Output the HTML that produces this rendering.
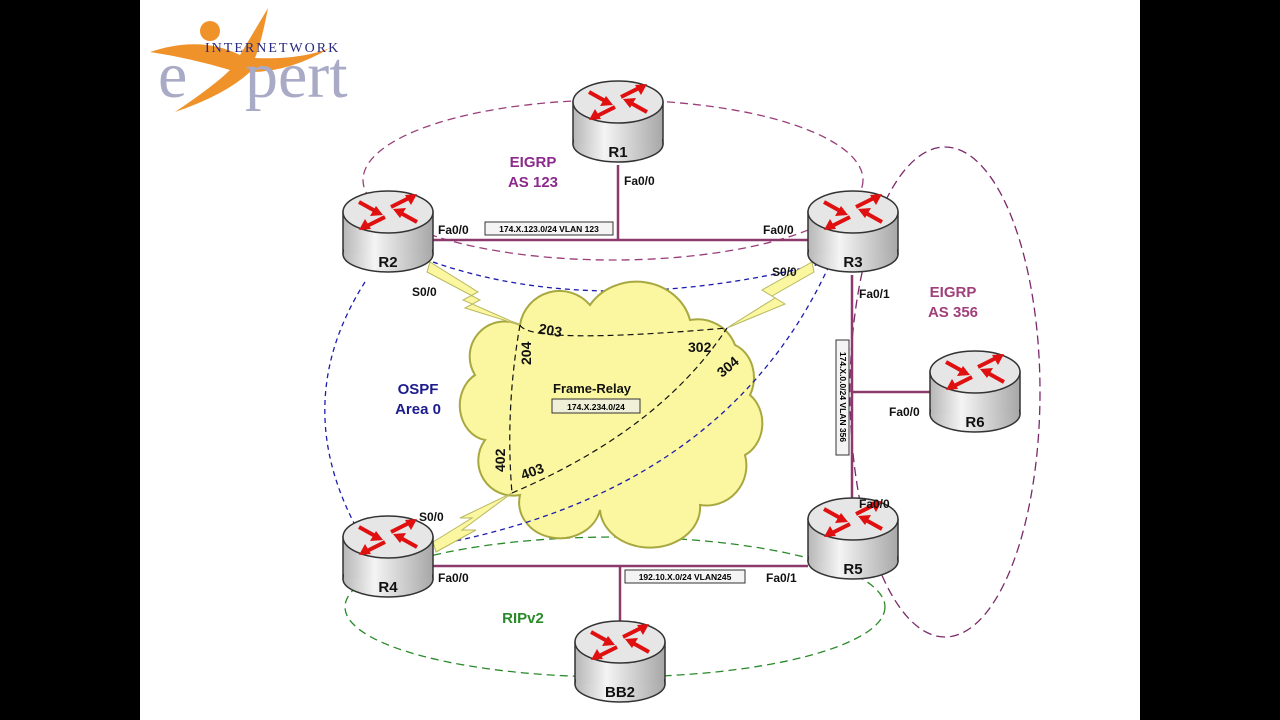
<!DOCTYPE html>
<html><head><style>
body{margin:0;background:#000;}
svg{display:block;font-family:"Liberation Sans",Arial,sans-serif;}
</style></head><body>
<svg width="1280" height="720" viewBox="0 0 1280 720" xmlns="http://www.w3.org/2000/svg">
<defs>
<linearGradient id="bg" x1="0" x2="1" y1="0" y2="0">
<stop offset="0" stop-color="#b8b8b8"/><stop offset="0.35" stop-color="#f4f4f4"/><stop offset="1" stop-color="#a8a8a8"/>
</linearGradient>
<g id="rt">
<rect x="0" y="22" width="90" height="42" fill="url(#bg)" stroke="#333" stroke-width="1.5"/>
<ellipse cx="45" cy="64" rx="45" ry="18" fill="url(#bg)" stroke="#333" stroke-width="1.5"/>
<rect x="1" y="22" width="88" height="42" fill="url(#bg)"/>
<ellipse cx="45" cy="22" rx="45" ry="21" fill="#e6e6e6" stroke="#333" stroke-width="1.5"/>
<g stroke="#e01010" stroke-width="4" fill="#e01010">
<line x1="16" y1="12" x2="34" y2="22"/><polygon points="40,25 27,26 33,16" stroke="none"/>
<line x1="74" y1="32" x2="56" y2="22"/><polygon points="50,19 63,18 57,28" stroke="none"/>
<line x1="42" y1="27" x2="24" y2="36"/><polygon points="16,40 22,29 28,39" stroke="none"/>
<line x1="48" y1="17" x2="66" y2="8"/><polygon points="74,4 68,15 62,5" stroke="none"/>
</g>
</g>
</defs>
<rect x="140" y="0" width="1000" height="720" fill="#fff"/>
<!-- logo -->
<path d="M150,52 Q200,35 240,55 Q255,30 268,8 Q262,40 255,58 Q300,60 330,48 Q290,72 250,72 Q225,95 175,112 Q215,85 230,70 Q190,58 150,52Z" fill="#f0922a"/>
<circle cx="210" cy="31" r="10" fill="#f0922a"/>
<text x="158" y="97" font-family="Liberation Serif,serif" font-size="66" fill="#a9abc6">e</text>
<text x="245" y="97" font-family="Liberation Serif,serif" font-size="66" fill="#a9abc6">pert</text>
<text x="205" y="52" font-family="Liberation Serif,serif" font-size="14" letter-spacing="2" fill="#2a2a80">INTERNETWORK</text>
<!-- dashed ellipses -->
<ellipse cx="613" cy="180" rx="250" ry="80" fill="none" stroke="#9a3e7a" stroke-width="1.3" stroke-dasharray="8,5"/>
<ellipse cx="945" cy="392" rx="95" ry="245" fill="none" stroke="#7a2a6a" stroke-width="1.3" stroke-dasharray="9,5"/>
<ellipse cx="615" cy="607" rx="270" ry="70" fill="none" stroke="#2a8a2a" stroke-width="1.3" stroke-dasharray="8,5"/>
<path d="M433,262 Q600,320 828,262" fill="none" stroke="#1c1cae" stroke-width="1.3" stroke-dasharray="5,4"/>
<path d="M365,282 Q290,400 355,525" fill="none" stroke="#1c1cae" stroke-width="1.3" stroke-dasharray="5,4"/>
<!-- cloud -->
<path d="M520,325 A40,40 0 0 1 590,305 A55,50 0 0 1 690,320 A40,40 0 0 1 735,345 A30,35 0 0 1 750,395 A30,35 0 0 1 745,455 A40,40 0 0 1 700,505 A50,40 0 0 1 600,510 A40,35 0 0 1 520,495 A35,35 0 0 1 485,440 A30,35 0 0 1 475,375 A35,35 0 0 1 520,325 Z" fill="#fbf6a0" stroke="#a8a840" stroke-width="2"/>
<path d="M412,549 Q720,500 828,268" fill="none" stroke="#1c1cae" stroke-width="1.3" stroke-dasharray="5,4"/>
<!-- bolts -->
<g fill="#fbf6a0" stroke="#b8b860" stroke-width="1">
<polygon points="430,262 478,292 463,300 520,325 465,308 480,300 427,272"/>
<polygon points="812,262 762,290 775,298 727,328 785,304 772,296 814,272"/>
<polygon points="433,542 472,518 460,518 512,493 462,530 476,530 436,552"/>
</g>
<!-- PVC dashed -->
<g fill="none" stroke="#111" stroke-width="1.2" stroke-dasharray="6,4">
<path d="M520,325 Q530,345 727,328"/>
<path d="M520,325 Q505,410 512,493"/>
<path d="M512,493 Q660,430 727,328"/>
</g>
<g font-weight="bold" font-size="14" fill="#111">
<text x="538" y="333" transform="rotate(10 538 333)">203</text>
<text x="531" y="365" transform="rotate(-90 531 365)">204</text>
<text x="688" y="352">302</text>
<text x="722" y="378" transform="rotate(-40 722 378)">304</text>
<text x="505" y="472" transform="rotate(-90 505 472)">402</text>
<text x="523" y="480" transform="rotate(-20 523 480)">403</text>
<text x="553" y="393" font-size="13">Frame-Relay</text>
</g>
<rect x="552" y="399" width="88" height="14" fill="#f0f0d8" stroke="#333"/>
<text x="596" y="410" font-size="8.5" font-weight="bold" text-anchor="middle">174.X.234.0/24</text>
<!-- ethernet lines -->
<g stroke="#8b3a6b" stroke-width="2.5">
<line x1="618" y1="165" x2="618" y2="240"/>
<line x1="433" y1="240" x2="808" y2="240"/>
<line x1="852" y1="275" x2="852" y2="500"/>
<line x1="852" y1="392" x2="932" y2="392"/>
<line x1="433" y1="566" x2="808" y2="566"/>
<line x1="620" y1="566" x2="620" y2="622"/>
</g>
<rect x="485" y="222" width="128" height="13" fill="#f4f4f4" stroke="#333"/>
<text x="549" y="232" font-size="8.5" font-weight="bold" text-anchor="middle">174.X.123.0/24 VLAN 123</text>
<rect x="625" y="570" width="120" height="13" fill="#f4f4f4" stroke="#333"/>
<text x="685" y="580" font-size="8.5" font-weight="bold" text-anchor="middle">192.10.X.0/24 VLAN245</text>
<rect x="836" y="340" width="13" height="115" fill="#f4f4f4" stroke="#333"/>
<text x="843" y="397" font-size="8.5" font-weight="bold" text-anchor="middle" transform="rotate(90 843 397)" dy="3">174.X.0.0/24 VLAN 356</text>
<!-- routers -->
<use href="#rt" x="573" y="80"/>
<use href="#rt" x="343" y="190"/>
<use href="#rt" x="808" y="190"/>
<use href="#rt" x="930" y="350"/>
<use href="#rt" x="808" y="497"/>
<use href="#rt" x="343" y="515"/>
<use href="#rt" x="575" y="620"/>
<g font-weight="bold" font-size="15" fill="#111" text-anchor="middle">
<text x="618" y="157">R1</text>
<text x="388" y="267">R2</text>
<text x="853" y="267">R3</text>
<text x="975" y="427">R6</text>
<text x="853" y="574">R5</text>
<text x="388" y="592">R4</text>
<text x="620" y="697">BB2</text>
</g>
<g font-weight="bold" font-size="12" fill="#111">
<text x="624" y="185">Fa0/0</text>
<text x="438" y="234">Fa0/0</text>
<text x="763" y="234">Fa0/0</text>
<text x="772" y="276">S0/0</text>
<text x="412" y="296">S0/0</text>
<text x="859" y="298">Fa0/1</text>
<text x="889" y="416">Fa0/0</text>
<text x="859" y="508">Fa0/0</text>
<text x="419" y="521">S0/0</text>
<text x="438" y="582">Fa0/0</text>
<text x="766" y="582">Fa0/1</text>
</g>
<g font-weight="bold" font-size="15" text-anchor="middle">
<text x="533" y="167" fill="#8b2a8b">EIGRP</text>
<text x="533" y="187" fill="#8b2a8b">AS 123</text>
<text x="953" y="297" fill="#a0407a">EIGRP</text>
<text x="953" y="317" fill="#a0407a">AS 356</text>
<text x="418" y="394" fill="#1c1c8e">OSPF</text>
<text x="418" y="414" fill="#1c1c8e">Area 0</text>
<text x="523" y="623" fill="#2a8a2a">RIPv2</text>
</g>
</svg>
</body></html>
